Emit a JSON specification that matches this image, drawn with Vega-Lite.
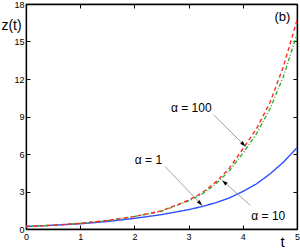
{
  "$schema": "https://vega.github.io/schema/vega-lite/v6.json",
  "width": 271,
  "height": 225,
  "autosize": "none",
  "padding": {"left": 26, "top": 4, "right": 3, "bottom": 19},
  "config": {
    "font": "Liberation Sans",
    "view": {"stroke": "black", "strokeWidth": 1.2},
    "axis": {
      "grid": false,
      "domainColor": "black",
      "domainWidth": 1.3,
      "tickColor": "black",
      "tickSize": -4,
      "tickWidth": 1,
      "labelFont": "Liberation Sans",
      "labelFontSize": 9,
      "labelColor": "black",
      "titleFont": "Liberation Sans",
      "titleColor": "black",
      "titleFontWeight": "normal"
    }
  },
  "datasets": {
    "curves": [
      {"s": "a1", "t": 0, "z": 0.2}, {"s": "a1", "t": 0.5, "z": 0.3}, {"s": "a1", "t": 1, "z": 0.42}, {"s": "a1", "t": 1.5, "z": 0.6}, {"s": "a1", "t": 2, "z": 0.85}, {"s": "a1", "t": 2.5, "z": 1.15}, {"s": "a1", "t": 3, "z": 1.55}, {"s": "a1", "t": 3.25, "z": 1.8}, {"s": "a1", "t": 3.5, "z": 2.1}, {"s": "a1", "t": 3.75, "z": 2.48}, {"s": "a1", "t": 4, "z": 3.0}, {"s": "a1", "t": 4.25, "z": 3.6}, {"s": "a1", "t": 4.5, "z": 4.4}, {"s": "a1", "t": 4.75, "z": 5.35}, {"s": "a1", "t": 5, "z": 6.5},
      {"s": "a10", "t": 0, "z": 0.2}, {"s": "a10", "t": 0.5, "z": 0.3}, {"s": "a10", "t": 1, "z": 0.45}, {"s": "a10", "t": 1.5, "z": 0.67}, {"s": "a10", "t": 2, "z": 1.0}, {"s": "a10", "t": 2.5, "z": 1.42}, {"s": "a10", "t": 3, "z": 2.25}, {"s": "a10", "t": 3.25, "z": 2.8}, {"s": "a10", "t": 3.5, "z": 3.6}, {"s": "a10", "t": 3.75, "z": 4.65}, {"s": "a10", "t": 4, "z": 6.05}, {"s": "a10", "t": 4.25, "z": 7.6}, {"s": "a10", "t": 4.5, "z": 9.6}, {"s": "a10", "t": 4.75, "z": 12.2}, {"s": "a10", "t": 5, "z": 15.6},
      {"s": "a100", "t": 0, "z": 0.2}, {"s": "a100", "t": 0.5, "z": 0.3}, {"s": "a100", "t": 1, "z": 0.45}, {"s": "a100", "t": 1.5, "z": 0.68}, {"s": "a100", "t": 2, "z": 1.0}, {"s": "a100", "t": 2.5, "z": 1.45}, {"s": "a100", "t": 3, "z": 2.3}, {"s": "a100", "t": 3.25, "z": 2.9}, {"s": "a100", "t": 3.5, "z": 3.75}, {"s": "a100", "t": 3.75, "z": 4.85}, {"s": "a100", "t": 4, "z": 6.4}, {"s": "a100", "t": 4.25, "z": 8.0}, {"s": "a100", "t": 4.5, "z": 10.1}, {"s": "a100", "t": 4.75, "z": 13.0}, {"s": "a100", "t": 5, "z": 16.7}
    ],
    "arrows": [
      {"t0": 3.46, "z0": 9.14, "t1": 4.05, "z1": 6.61, "ang": 134.7},
      {"t0": 2.57, "z0": 4.98, "t1": 3.25, "z1": 1.89, "ang": 136.5},
      {"t0": 4.14, "z0": 1.89, "t1": 3.62, "z1": 3.89, "ang": 311.5}
    ],
    "labels": [
      {"t": 3.05, "z": 9.7, "txt": "α = 100", "fs": 12},
      {"t": 2.26, "z": 5.54, "txt": "α = 1", "fs": 12},
      {"t": 4.47, "z": 1.06, "txt": "α = 10", "fs": 12},
      {"t": 4.73, "z": 17.0, "txt": "(b)", "fs": 13}
    ]
  },
  "layer": [
    {
      "data": {"name": "curves"},
      "mark": {"type": "line", "strokeWidth": 1.4, "clip": true},
      "encoding": {
        "x": {"field": "t", "type": "quantitative", "scale": {"domain": [0, 5], "nice": false},
              "axis": {"values": [0, 1, 2, 3, 4, 5], "labelPadding": 7, "title": "t", "titleFontSize": 15, "titleX": 256, "titleY": 17, "titleBaseline": "alphabetic", "titleAlign": "center", "labelFlush": false}},
        "y": {"field": "z", "type": "quantitative", "scale": {"domain": [0, 18], "nice": false},
              "axis": {"values": [0, 3, 6, 9, 12, 15, 18], "labelPadding": 6, "title": "z(t)", "titleFontSize": 14, "titleAngle": 0, "titleX": -15, "titleY": 21, "titleBaseline": "middle", "titleAlign": "center", "labelFlush": false}},
        "color": {"field": "s", "type": "nominal", "scale": {"domain": ["a1", "a10", "a100"], "range": ["#2f4fff", "#2fb02f", "#ff2a2a"]}, "legend": null},
        "strokeDash": {"field": "s", "type": "nominal", "scale": {"domain": ["a1", "a10", "a100"], "range": [[1, 0], [4, 2, 1, 2], [4, 3]]}, "legend": null},
        "order": {"field": "t", "type": "quantitative"}
      }
    },
    {
      "data": {"name": "arrows"},
      "mark": {"type": "rule", "color": "#8a8a8a", "strokeWidth": 0.8},
      "encoding": {
        "x": {"field": "t0", "type": "quantitative", "axis": {"orient": "top", "values": [0, 1, 2, 3, 4, 5], "labels": false, "title": null}},
        "y": {"field": "z0", "type": "quantitative", "axis": {"orient": "right", "values": [0, 3, 6, 9, 12, 15, 18], "labels": false, "title": null}},
        "x2": {"field": "t1"},
        "y2": {"field": "z1"}
      }
    },
    {
      "data": {"name": "arrows"},
      "mark": {"type": "point", "filled": true, "color": "black", "opacity": 1, "shape": "M0,0L0.6,1.8L-0.6,1.8Z", "size": 40},
      "encoding": {
        "x": {"field": "t1", "type": "quantitative", "axis": null},
        "y": {"field": "z1", "type": "quantitative", "axis": null},
        "angle": {"field": "ang", "type": "quantitative", "scale": null}
      }
    },
    {
      "data": {"name": "labels"},
      "mark": {"type": "text", "font": "Liberation Sans", "color": "black", "align": "center", "baseline": "middle"},
      "encoding": {
        "x": {"field": "t", "type": "quantitative", "axis": null},
        "y": {"field": "z", "type": "quantitative", "axis": null},
        "text": {"field": "txt"},
        "size": {"field": "fs", "type": "quantitative", "scale": null}
      }
    }
  ],
  "resolve": {"axis": {"x": "independent", "y": "independent"}}
}
